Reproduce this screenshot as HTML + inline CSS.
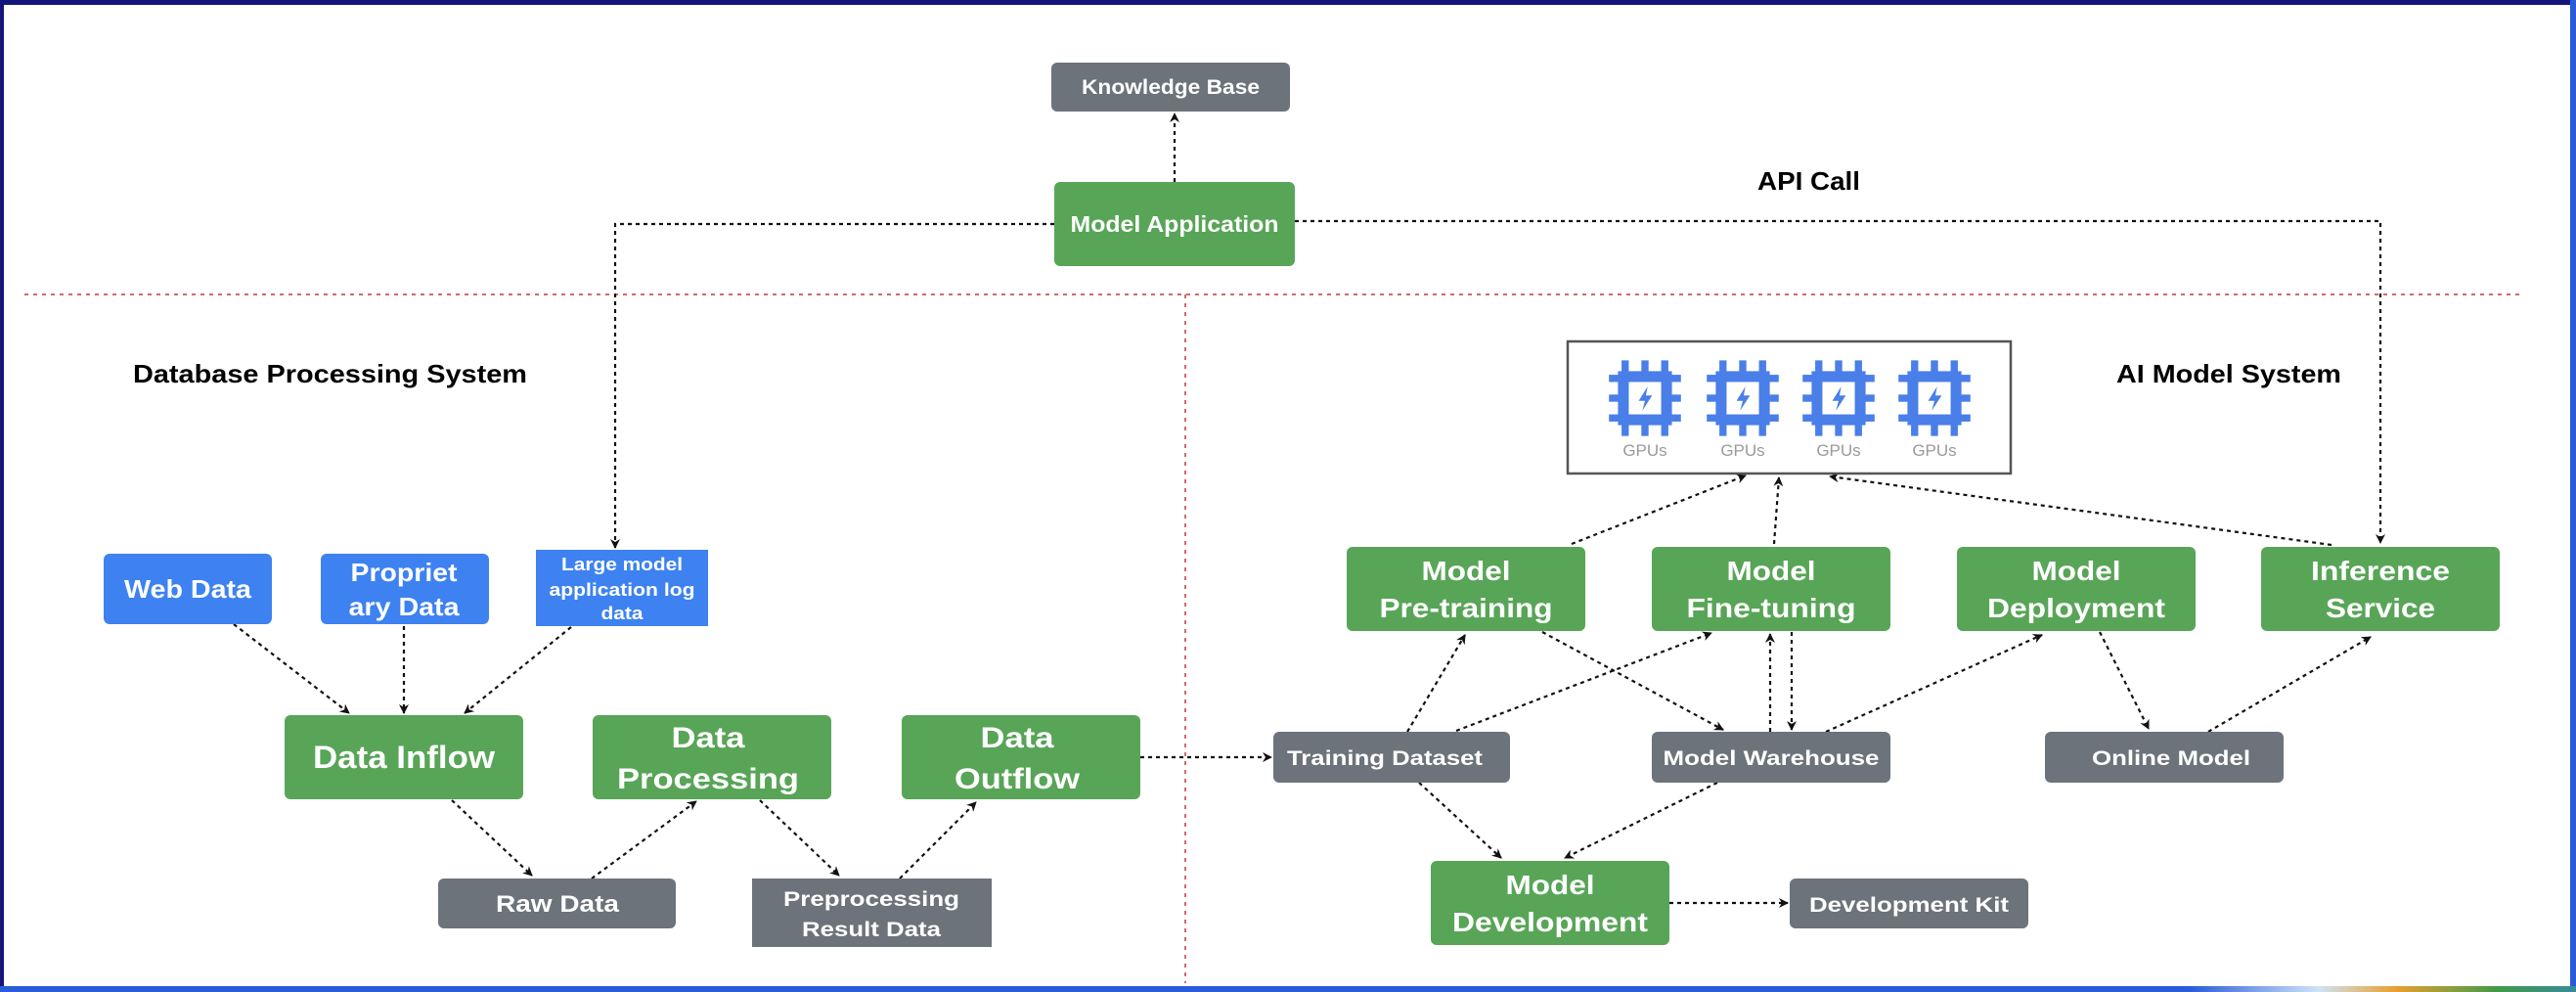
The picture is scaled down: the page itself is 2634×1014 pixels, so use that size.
<!DOCTYPE html>
<html><head><meta charset="utf-8"><style>
html,body{margin:0;padding:0;background:#fff;}
svg{display:block;}
text{font-family:"Liberation Sans",Arial,sans-serif;}
</style></head><body>
<svg width="2634" height="1014" viewBox="0 0 2634 1014" xmlns="http://www.w3.org/2000/svg">
<defs>
<marker id="ah" markerWidth="10" markerHeight="10" refX="9" refY="5" orient="auto" markerUnits="userSpaceOnUse">
<path d="M0,0 L10,5 L0,10 L3,5 Z" fill="#111"/></marker>
<linearGradient id="bg" x1="0" x2="1"><stop offset="0" stop-color="#2a5bd8"/><stop offset="0.85" stop-color="#2a5bd8"/><stop offset="0.9" stop-color="#cfe3f7"/><stop offset="0.93" stop-color="#e8a030"/><stop offset="0.97" stop-color="#3f9a48"/><stop offset="1" stop-color="#3a8a9a"/></linearGradient>
<g id="chip">
<rect x="-30" y="-30" width="60" height="60" fill="#4a7ee8"/>
<rect x="-18" y="-18" width="36" height="36" fill="#fff"/>
<rect x="-26" y="-42" width="8" height="14" fill="#4a7ee8"/><rect x="-4" y="-42" width="8" height="14" fill="#4a7ee8"/><rect x="18" y="-42" width="8" height="14" fill="#4a7ee8"/>
<rect x="-26" y="28" width="8" height="14" fill="#4a7ee8"/><rect x="-4" y="28" width="8" height="14" fill="#4a7ee8"/><rect x="18" y="28" width="8" height="14" fill="#4a7ee8"/>
<rect x="-40" y="-26" width="12" height="8" fill="#4a7ee8"/><rect x="-40" y="-4" width="12" height="8" fill="#4a7ee8"/><rect x="-40" y="18" width="12" height="8" fill="#4a7ee8"/>
<rect x="28" y="-26" width="12" height="8" fill="#4a7ee8"/><rect x="28" y="-4" width="12" height="8" fill="#4a7ee8"/><rect x="28" y="18" width="12" height="8" fill="#4a7ee8"/>
<path d="M3,-13 L-7,3 L0,3 L-3,14 L8,-3 L1,-3 Z" fill="#4a7ee8"/>
</g>
</defs>
<!-- frame -->
<rect x="0" y="0" width="2634" height="5" fill="#14157a"/>
<rect x="0" y="0" width="4" height="1014" fill="#14157a"/>
<rect x="2628" y="0" width="6" height="1014" fill="#2a5bd8"/>
<rect x="0" y="1008" width="2634" height="6" fill="url(#bg)"/>

<!-- separators -->
<line x1="25" y1="301" x2="2581" y2="301" stroke="#d06a6a" stroke-width="2" stroke-dasharray="4,5"/>
<line x1="1212" y1="301" x2="1212" y2="1005" stroke="#d06a6a" stroke-width="2" stroke-dasharray="4,5"/>

<!-- titles -->
<text x="136" y="391" font-size="26" font-weight="bold" textLength="403" lengthAdjust="spacingAndGlyphs">Database Processing System</text>
<text x="2164" y="391" font-size="26" font-weight="bold" textLength="230" lengthAdjust="spacingAndGlyphs">AI Model System</text>
<text x="1797" y="194" font-size="26" font-weight="bold" textLength="105" lengthAdjust="spacingAndGlyphs">API Call</text>

<!-- connectors -->
<g fill="none" stroke="#111" stroke-width="2.2" stroke-dasharray="4,4">
<path d="M1201,186 L1201,116" marker-end="url(#ah)"/>
<path d="M1078,229 L629,229 L629,560" marker-end="url(#ah)"/>
<path d="M1324,226 L2434,226 L2434,555" marker-end="url(#ah)"/>
<path d="M239,638 L357,729" marker-end="url(#ah)"/>
<path d="M413,640 L413,729" marker-end="url(#ah)"/>
<path d="M584,641 L475,729" marker-end="url(#ah)"/>
<path d="M462,818 L544,895" marker-end="url(#ah)"/>
<path d="M605,898 L712,819" marker-end="url(#ah)"/>
<path d="M777,818 L858,895" marker-end="url(#ah)"/>
<path d="M920,898 L998,820" marker-end="url(#ah)"/>
<path d="M1166,774 L1300,774" marker-end="url(#ah)"/>
<path d="M1607,556 L1785,486" marker-end="url(#ah)"/>
<path d="M1814,556 L1819,488" marker-end="url(#ah)"/>
<path d="M2384,557 L1871,487" marker-end="url(#ah)"/>
<path d="M1439,748 L1498,649" marker-end="url(#ah)"/>
<path d="M1489,747 L1750,647" marker-end="url(#ah)"/>
<path d="M1577,646 L1762,746" marker-end="url(#ah)"/>
<path d="M1810,748 L1810,648" marker-end="url(#ah)"/>
<path d="M1832,646 L1832,746" marker-end="url(#ah)"/>
<path d="M1867,748 L2088,649" marker-end="url(#ah)"/>
<path d="M2147,646 L2197,745" marker-end="url(#ah)"/>
<path d="M2258,748 L2424,651" marker-end="url(#ah)"/>
<path d="M1451,800 L1535,877" marker-end="url(#ah)"/>
<path d="M1756,800 L1600,877" marker-end="url(#ah)"/>
<path d="M1707,923 L1828,923" marker-end="url(#ah)"/>
</g>

<!-- GPU box -->
<rect x="1603" y="349" width="453" height="135" fill="#fff" stroke="#555" stroke-width="2.5"/>
<use href="#chip" transform="translate(1682,407) scale(0.92)"/>
<use href="#chip" transform="translate(1782,407) scale(0.92)"/>
<use href="#chip" transform="translate(1880,407) scale(0.92)"/>
<use href="#chip" transform="translate(1978,407) scale(0.92)"/>
<g font-size="17" fill="#9a9a9a" text-anchor="middle">
<text x="1682" y="466">GPUs</text><text x="1782" y="466">GPUs</text><text x="1880" y="466">GPUs</text><text x="1978" y="466">GPUs</text>
</g>

<!-- gray nodes -->
<g fill="#6c737a">
<rect x="1075" y="64" width="244" height="50" rx="6"/>
<rect x="448" y="898" width="243" height="51" rx="6"/>
<rect x="769" y="898" width="245" height="70"/>
<rect x="1302" y="748" width="242" height="52" rx="6"/>
<rect x="1689" y="748" width="244" height="52" rx="6"/>
<rect x="2091" y="748" width="244" height="52" rx="6"/>
<rect x="1830" y="898" width="244" height="51" rx="6"/>
</g>
<!-- blue nodes -->
<g fill="#3d82f0">
<rect x="106" y="566" width="172" height="72" rx="6"/>
<rect x="328" y="566" width="172" height="72" rx="6"/>
<rect x="548" y="562" width="176" height="78"/>
</g>
<!-- green nodes -->
<g fill="#58a557">
<rect x="1078" y="186" width="246" height="86" rx="6"/>
<rect x="291" y="731" width="244" height="86" rx="6"/>
<rect x="606" y="731" width="244" height="86" rx="6"/>
<rect x="922" y="731" width="244" height="86" rx="6"/>
<rect x="1377" y="559" width="244" height="86" rx="6"/>
<rect x="1689" y="559" width="244" height="86" rx="6"/>
<rect x="2001" y="559" width="244" height="86" rx="6"/>
<rect x="2312" y="559" width="244" height="86" rx="6"/>
<rect x="1463" y="880" width="244" height="86" rx="6"/>
</g>

<!-- labels -->
<g fill="#fff" font-weight="bold" text-anchor="middle">
<text x="1197" y="96" font-size="21" textLength="182" lengthAdjust="spacingAndGlyphs">Knowledge Base</text>
<text x="1201" y="237" font-size="23" textLength="213" lengthAdjust="spacingAndGlyphs">Model Application</text>
<text x="192" y="611" font-size="26" textLength="130" lengthAdjust="spacingAndGlyphs">Web Data</text>
<text x="413" y="594" font-size="26" textLength="109" lengthAdjust="spacingAndGlyphs">Propriet</text>
<text x="413" y="629" font-size="26" textLength="113" lengthAdjust="spacingAndGlyphs">ary Data</text>
<text x="636" y="583" font-size="18" textLength="124" lengthAdjust="spacingAndGlyphs">Large model</text>
<text x="636" y="609" font-size="18" textLength="149" lengthAdjust="spacingAndGlyphs">application log</text>
<text x="636" y="633" font-size="18" textLength="43" lengthAdjust="spacingAndGlyphs">data</text>
<text x="413" y="785" font-size="32" textLength="186" lengthAdjust="spacingAndGlyphs">Data Inflow</text>
<text x="724" y="764" font-size="30" textLength="75" lengthAdjust="spacingAndGlyphs">Data</text>
<text x="724" y="806" font-size="30" textLength="186" lengthAdjust="spacingAndGlyphs">Processing</text>
<text x="1040" y="764" font-size="30" textLength="75" lengthAdjust="spacingAndGlyphs">Data</text>
<text x="1040" y="806" font-size="30" textLength="128" lengthAdjust="spacingAndGlyphs">Outflow</text>
<text x="570" y="932" font-size="24" textLength="126" lengthAdjust="spacingAndGlyphs">Raw Data</text>
<text x="891" y="926" font-size="21" textLength="180" lengthAdjust="spacingAndGlyphs">Preprocessing</text>
<text x="891" y="957" font-size="21" textLength="142" lengthAdjust="spacingAndGlyphs">Result Data</text>
<text x="1416" y="782" font-size="21" textLength="200" lengthAdjust="spacingAndGlyphs">Training Dataset</text>
<text x="1811" y="782" font-size="21" textLength="221" lengthAdjust="spacingAndGlyphs">Model Warehouse</text>
<text x="2220" y="782" font-size="21" textLength="162" lengthAdjust="spacingAndGlyphs">Online Model</text>
<text x="1952" y="932" font-size="21" textLength="204" lengthAdjust="spacingAndGlyphs">Development Kit</text>
<text x="1499" y="593" font-size="28" textLength="91" lengthAdjust="spacingAndGlyphs">Model</text>
<text x="1499" y="631" font-size="28" textLength="177" lengthAdjust="spacingAndGlyphs">Pre-training</text>
<text x="1811" y="593" font-size="28" textLength="91" lengthAdjust="spacingAndGlyphs">Model</text>
<text x="1811" y="631" font-size="28" textLength="173" lengthAdjust="spacingAndGlyphs">Fine-tuning</text>
<text x="2123" y="593" font-size="28" textLength="91" lengthAdjust="spacingAndGlyphs">Model</text>
<text x="2123" y="631" font-size="28" textLength="182" lengthAdjust="spacingAndGlyphs">Deployment</text>
<text x="2434" y="593" font-size="28" textLength="142" lengthAdjust="spacingAndGlyphs">Inference</text>
<text x="2434" y="631" font-size="28" textLength="112" lengthAdjust="spacingAndGlyphs">Service</text>
<text x="1585" y="914" font-size="28" textLength="91" lengthAdjust="spacingAndGlyphs">Model</text>
<text x="1585" y="952" font-size="28" textLength="200" lengthAdjust="spacingAndGlyphs">Development</text>
</g>
</svg>
</body></html>
